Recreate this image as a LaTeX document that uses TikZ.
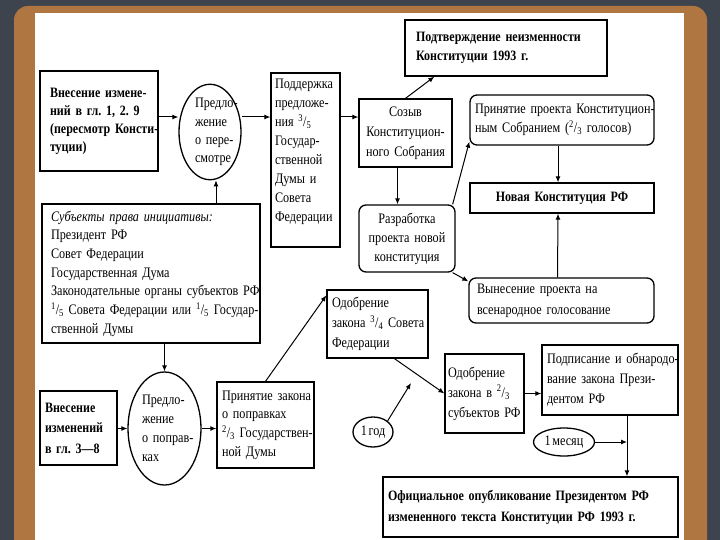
\documentclass[tikz,border=0pt]{standalone}
\usepackage{fontspec}
\setmainfont{Liberation Serif}[FakeStretch=0.84, WordSpace=0.55]
\usetikzlibrary{shapes.geometric,arrows.meta}

\definecolor{slate}{RGB}{62,68,78}
\definecolor{wood}{RGB}{176,118,66}

\begin{document}
\begin{tikzpicture}[x=1pt, y=-1pt,
    txt/.style={font=\fontsize{14.5}{#1}\selectfont\frenchspacing},
    txtb/.style={font=\fontsize{14.3}{#1}\selectfont\bfseries\frenchspacing},
    nowrap/.style={execute at begin node={\rightskip=0pt plus 1fil minus 1000pt\relax}},
    cbox/.style={draw, line width=1.3pt, inner ysep=2pt, align=center, txt=18.5},
    box/.style={cbox, align=left, nowrap},
    rbox/.style={box, rounded corners=7pt},
    rcbox/.style={cbox, rounded corners=7pt},
    oval/.style={draw, line width=1.3pt, ellipse, inner sep=0pt, align=left, txt=18.5, nowrap},
    arr/.style={-{Latex[length=6pt,width=5pt]}, line width=1pt}]
    \useasboundingbox (0,0) rectangle (720,540);

    % Frame
    \fill[slate] (0,0) rectangle (720,540);
    \fill[wood, rounded corners=14pt] (14,6) rectangle (707,570);
    \fill[white] (35,13) rectangle (684,540);

    % Revision of chapters 1, 2, 9
    \node[box, txtb=18, minimum width=118pt, minimum height=100pt, text width=98pt, inner xsep=10pt] (b1) at (99,121)
        {Внесение измене-\\ний в гл. 1, 2. 9\\(пересмотр Консти-\\туции)};
    \node[oval, txt=18.3, minimum width=62pt, minimum height=95pt, text width=30pt] (e1) at (210,132)
        {Предло-\\жение\\о пере-\\смотре};
    \node[box, txt=19, minimum width=69pt, minimum height=174pt, text width=61pt, inner xsep=4pt] (b3) at (305.5,160)
        {Поддержка\\предложе-\\ния \textsuperscript{3}/\textsubscript{5}\\Государ-\\ственной\\Думы и\\Совета\\Федерации\\~};
    \node[cbox, txt=20, minimum width=93pt, minimum height=68pt, text width=85pt] (b4) at (405.5,133)
        {Созыв\\Конституцион-\\ного Собрания};
    \node[box, txtb=19.5, minimum width=202pt, minimum height=56pt, text width=180pt, inner xsep=11pt] (b5) at (506,48)
        {Подтверждение неизменности\\Конституции 1993 г.};
    \node[rbox, txt=19, minimum width=184pt, minimum height=50pt, text width=174pt, inner xsep=5pt] (b6) at (562,120)
        {Принятие проекта Конституцион-\\ным Собранием (\textsuperscript{2}/\textsubscript{3} голосов)};
    \node[cbox, txtb=19, minimum width=184pt, minimum height=30pt, text width=174pt, inner xsep=5pt] (b7) at (562,198)
        {Новая Конституция РФ};
    \node[rcbox, txt=19, minimum width=96pt, minimum height=67pt, text width=88pt] (b8) at (407,238.5)
        {Разработка\\проекта новой\\конституция};
    \node[rbox, txt=21, minimum width=185pt, minimum height=45pt, text width=169pt, inner xsep=8pt] (b9) at (561.5,300.5)
        {Вынесение проекта на\\всенародное голосование};

    % Subjects of initiative
    \node[box, txt=18.7, minimum width=218pt, minimum height=139pt, text width=200pt, inner xsep=9pt] (b10) at (151,273.5)
        {{\itshape Субъекты права инициативы:}\\Президент РФ\\Совет Федерации\\Государственная Дума\\Законодательные органы субъектов РФ\\\textsuperscript{1}/\textsubscript{5} Совета Федерации или \textsuperscript{1}/\textsubscript{5} Государ-\\ственной Думы};

    % Amendments to chapters 3-8
    \node[box, txtb=20.5, minimum width=77pt, minimum height=74pt, text width=67pt, inner xsep=5pt] (b12) at (78.5,428)
        {Внесение\\изменений\\в гл. 3---8};
    \node[oval, txt=19, minimum width=73pt, minimum height=113pt, text width=45pt] (e2) at (164.5,428.5)
        {Предло-\\жение\\о поправ-\\ках};
    \node[box, txt=18.7, minimum width=97pt, minimum height=86pt, text width=87pt, inner xsep=5pt] (b14) at (265.5,425)
        {Принятие закона\\о поправках\\\textsuperscript{2}/\textsubscript{3} Государствен-\\ной Думы};
    \node[box, txt=20, minimum width=101pt, minimum height=68pt, text width=91pt, inner xsep=5pt] (b11) at (377.5,324)
        {Одобрение\\закона \textsuperscript{3}/\textsubscript{4} Совета\\Федерации};
    \node[box, txt=20, minimum width=79pt, minimum height=79pt, text width=73pt, inner xsep=3pt] (b15) at (484.5,393.5)
        {Одобрение\\закона в \textsuperscript{2}/\textsubscript{3}\\субъектов РФ};
    \node[box, txt=20, minimum width=136pt, minimum height=70pt, text width=126pt, inner xsep=5pt] (b16) at (610,380)
        {Подписание и обнародо-\\вание закона Прези-\\дентом РФ};
    \node[box, txtb=21, minimum width=295pt, minimum height=60pt, text width=285pt, inner xsep=5pt] (b19) at (530.5,507)
        {Официальное опубликование Президентом РФ\\измененного текста Конституции РФ 1993 г.};
    \node[oval, align=center, minimum width=40pt, minimum height=30pt] (god) at (373,432) {1 год};
    \node[oval, align=center, minimum width=61pt, minimum height=28pt] (mes) at (564,442) {1 месяц};

    % Connectors
    \coordinate (row) at (0,117);
    \coordinate (up) at ([xshift=6pt]e1.south);
    \coordinate (godtip) at (411,383);
    \coordinate (tap) at ([xshift=17pt]b16.south);
    \draw[arr] (b1.east |- row) -- (e1.west |- row);
    \draw[arr] (e1.east |- row) -- (b3.west |- row);
    \draw[arr] (b3.east |- row) -- (b4.west |- row);
    \draw[arr] (b4.north) -- ([xshift=30pt]b5.south west);
    \draw[arr] ([xshift=-8pt]b4.south) -- ([xshift=-8pt]b8.north -| b4.south);
    \draw[arr] ([xshift=-3pt]b8.north east) -- ([yshift=4pt]b6.south west);
    \draw[arr] ([xshift=-3pt]b8.south east) -- ([yshift=-4pt]b9.north west);
    \draw[arr] ([xshift=-4pt]b6.south) -- ([xshift=-4pt]b7.north);
    \draw[arr] ([xshift=-4pt]b9.north) -- ([xshift=-4pt]b7.south);
    \draw[arr] (up |- b10.north) -- (up);
    \draw[arr] (b10.south -| e2.north) -- (e2.north);
    \draw[arr] (e2.west -| b12.east) -- (e2.west);
    \draw[arr] (e2.east) -- (e2.east -| b14.west);
    \draw[arr] (b14.north) -- ([yshift=-6pt]b11.north west);
    \draw[arr] ([xshift=17pt]b11.south) -- (b15.west);
    \draw[arr] (god.north east) -- (godtip);
    \draw[arr] (b15.east) -- (b15.east -| b16.west);
    \draw[arr] (tap) -- (tap |- b19.north);
    \draw[arr] (mes.east) -- (mes.east -| tap);
\end{tikzpicture}
\end{document}
